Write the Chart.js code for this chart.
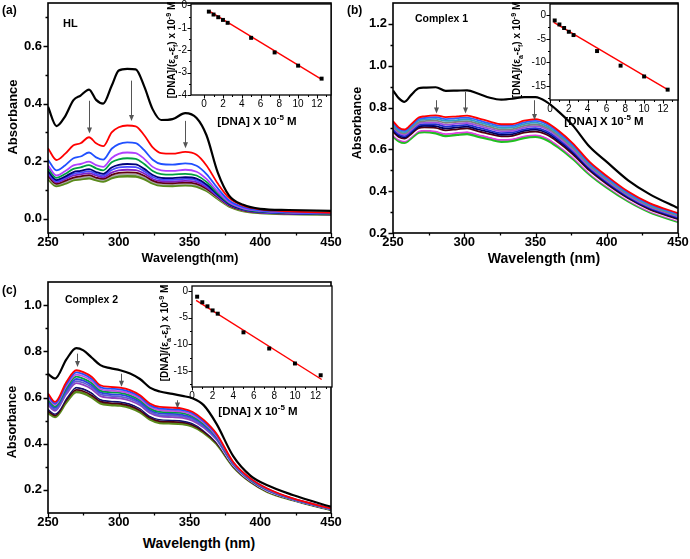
<!DOCTYPE html>
<html>
<head>
<meta charset="utf-8">
<script src="https://cdn.jsdelivr.net/npm/chart.js@4.4.0/dist/chart.umd.min.js"></script>
<style>
  body { margin: 0; background: #fff; }
  #page { position: relative; width: 690px; height: 559px; overflow: hidden; font-family: 'Liberation Sans', Arial, sans-serif; color: #000; }
  canvas { position: absolute; }
  .t { position: absolute; font-weight: bold; white-space: nowrap; line-height: 1; }
  .c { transform: translate(-50%, -50%); }
  .r { transform: translate(-50%, -50%) rotate(-90deg); }
  sup, sub { font-size: 70%; line-height: 0; }
</style>
</head>
<body>
<div id="page">
  <canvas id="mainA" width="345" height="252" style="left:0;top:0"></canvas>
  <canvas id="mainB" width="345" height="252" style="left:345px;top:0"></canvas>
  <canvas id="mainC" width="345" height="253" style="left:0;top:279px"></canvas>
  <canvas id="insetA" width="176" height="112" style="left:160px;top:0"></canvas>
  <canvas id="insetB" width="160" height="117" style="left:525px;top:0"></canvas>
  <canvas id="insetC" width="172" height="123" style="left:165px;top:282px"></canvas>

  <div class="t" style="left:2px;top:4px;font-size:12px">(a)</div>
  <div class="t" style="left:63px;top:18px;font-size:11px">HL</div>
  <div class="t" style="left:347px;top:4px;font-size:12px">(b)</div>
  <div class="t" style="left:415px;top:13px;font-size:10.5px">Complex 1</div>
  <div class="t" style="left:2px;top:284px;font-size:12px">(c)</div>
  <div class="t" style="left:65px;top:294px;font-size:10.5px">Complex 2</div>

  <div class="t r" style="left:12px;top:117px;font-size:13px">Absorbance</div>
  <div class="t c" style="left:190px;top:258px;font-size:12.5px">Wavelength(nm)</div>
  <div class="t r" style="left:357px;top:123px;font-size:12.5px">Absorbance</div>
  <div class="t c" style="left:544px;top:258px;font-size:14px">Wavelength (nm)</div>
  <div class="t r" style="left:12px;top:422px;font-size:12.5px">Absorbance</div>
  <div class="t c" style="left:199px;top:543px;font-size:14px">Wavelength (nm)</div>

  <div class="t c" style="left:257px;top:122px;font-size:11.5px">[DNA] X 10<sup>-5</sup> M</div>
  <div class="t r" style="left:172px;top:50px;font-size:10px">[DNA]/(&epsilon;<sub>a</sub>-&epsilon;<sub>f</sub>) x 10<sup>-9</sup> M</div>
  <div class="t c" style="left:604px;top:122px;font-size:11.5px">[DNA] X 10<sup>-5</sup> M</div>
  <div class="t r" style="left:517px;top:50px;font-size:10px">[DNA]/(&epsilon;<sub>a</sub>-&epsilon;<sub>f</sub>) x 10<sup>-9</sup> M</div>
  <div class="t c" style="left:258px;top:412px;font-size:11.5px">[DNA] X 10<sup>-5</sup> M</div>
  <div class="t r" style="left:165px;top:333px;font-size:10px">[DNA]/(&epsilon;<sub>a</sub>-&epsilon;<sub>f</sub>) x 10<sup>-9</sup> M</div>
</div>
<script>
// ---------- datos ----------

// ejes comunes
const wlTicks = [250, 300, 350, 400, 450];
const wlMinor = [275, 325, 375, 425];

// (a) HL
const aWl = [250, 256, 262, 268, 273, 279, 284, 289, 295, 300, 306, 312, 318, 324, 330, 338, 347, 355, 362, 370, 378, 388, 400, 420, 450];
const aBlack  = [0.389, 0.322, 0.355, 0.412, 0.428, 0.449, 0.413, 0.400, 0.462, 0.515, 0.521, 0.519, 0.460, 0.380, 0.343, 0.346, 0.367, 0.350, 0.290, 0.160, 0.080, 0.048, 0.034, 0.030, 0.027];
const aRed    = [0.245, 0.204, 0.225, 0.255, 0.262, 0.283, 0.262, 0.252, 0.300, 0.318, 0.324, 0.321, 0.290, 0.248, 0.228, 0.226, 0.232, 0.222, 0.185, 0.122, 0.072, 0.045, 0.032, 0.025, 0.020];
const aBlue   = [0.205, 0.168, 0.185, 0.210, 0.216, 0.230, 0.213, 0.205, 0.243, 0.259, 0.265, 0.263, 0.238, 0.205, 0.190, 0.188, 0.192, 0.184, 0.155, 0.105, 0.063, 0.040, 0.029, 0.023, 0.019];
const aViolet = [0.185, 0.150, 0.165, 0.185, 0.190, 0.198, 0.186, 0.180, 0.211, 0.225, 0.230, 0.228, 0.208, 0.180, 0.168, 0.166, 0.170, 0.163, 0.138, 0.094, 0.057, 0.036, 0.027, 0.021, 0.018];
const aGreen  = [0.175, 0.142, 0.155, 0.173, 0.178, 0.186, 0.175, 0.168, 0.196, 0.206, 0.210, 0.208, 0.190, 0.166, 0.155, 0.153, 0.156, 0.150, 0.128, 0.088, 0.054, 0.034, 0.025, 0.020, 0.017];
const aNavy   = [0.165, 0.134, 0.146, 0.162, 0.166, 0.172, 0.162, 0.156, 0.178, 0.187, 0.190, 0.189, 0.173, 0.152, 0.142, 0.141, 0.144, 0.139, 0.119, 0.083, 0.051, 0.032, 0.024, 0.019, 0.016];
const aBlue2  = [0.160, 0.130, 0.142, 0.156, 0.160, 0.165, 0.156, 0.150, 0.169, 0.178, 0.180, 0.179, 0.165, 0.145, 0.136, 0.135, 0.138, 0.133, 0.114, 0.080, 0.050, 0.031, 0.023, 0.018, 0.016];
const aPurple = [0.155, 0.126, 0.137, 0.150, 0.154, 0.158, 0.150, 0.144, 0.160, 0.168, 0.170, 0.169, 0.157, 0.138, 0.130, 0.129, 0.131, 0.127, 0.109, 0.077, 0.048, 0.030, 0.022, 0.018, 0.015];
const aMaroon = [0.148, 0.121, 0.131, 0.143, 0.147, 0.151, 0.143, 0.138, 0.152, 0.159, 0.161, 0.160, 0.149, 0.132, 0.124, 0.123, 0.125, 0.121, 0.104, 0.074, 0.046, 0.029, 0.021, 0.017, 0.015];
const aGray   = [0.143, 0.118, 0.127, 0.139, 0.142, 0.146, 0.139, 0.134, 0.147, 0.153, 0.155, 0.154, 0.144, 0.128, 0.120, 0.119, 0.121, 0.117, 0.101, 0.072, 0.045, 0.028, 0.021, 0.017, 0.014];
const aOlive  = [0.138, 0.114, 0.122, 0.134, 0.137, 0.141, 0.134, 0.129, 0.141, 0.147, 0.148, 0.147, 0.138, 0.123, 0.115, 0.114, 0.116, 0.112, 0.097, 0.069, 0.043, 0.027, 0.020, 0.016, 0.014];
const aYTicks = [0.0, 0.2, 0.4, 0.6];
const aYMinor = [0.1, 0.3, 0.5, 0.7];
const aArrowX = [279, 309, 347];
const aArrowFrom = [0.410, 0.480, 0.340];
const aArrowTo = [0.296, 0.340, 0.245];

// (b) Complex 1
const bWl = [250, 254, 258, 263, 268, 272, 280, 287, 295, 302, 310, 318, 326, 334, 342, 350, 358, 366, 376, 388, 400, 415, 430, 450];
const bBlack   = [0.882, 0.845, 0.827, 0.862, 0.892, 0.895, 0.897, 0.880, 0.881, 0.882, 0.866, 0.847, 0.838, 0.842, 0.850, 0.850, 0.826, 0.782, 0.716, 0.612, 0.540, 0.452, 0.386, 0.319];
const bRed     = [0.735, 0.705, 0.695, 0.722, 0.752, 0.758, 0.763, 0.754, 0.758, 0.761, 0.748, 0.733, 0.720, 0.721, 0.737, 0.745, 0.728, 0.690, 0.630, 0.540, 0.473, 0.398, 0.343, 0.295];
const bBlue    = [0.728, 0.698, 0.689, 0.715, 0.745, 0.750, 0.754, 0.745, 0.749, 0.752, 0.739, 0.724, 0.712, 0.713, 0.729, 0.736, 0.720, 0.682, 0.623, 0.534, 0.467, 0.393, 0.339, 0.291];
const bCyan    = [0.720, 0.692, 0.682, 0.709, 0.738, 0.743, 0.746, 0.736, 0.740, 0.744, 0.730, 0.716, 0.703, 0.705, 0.721, 0.728, 0.711, 0.674, 0.615, 0.528, 0.462, 0.389, 0.334, 0.287];
const bGray    = [0.713, 0.685, 0.676, 0.702, 0.730, 0.735, 0.737, 0.727, 0.732, 0.735, 0.722, 0.707, 0.695, 0.697, 0.712, 0.719, 0.703, 0.666, 0.608, 0.522, 0.456, 0.384, 0.330, 0.283];
const bViolet  = [0.706, 0.679, 0.670, 0.695, 0.723, 0.728, 0.729, 0.718, 0.723, 0.726, 0.713, 0.699, 0.687, 0.689, 0.704, 0.711, 0.695, 0.658, 0.600, 0.516, 0.451, 0.380, 0.326, 0.279];
const bBlue2   = [0.698, 0.672, 0.663, 0.688, 0.716, 0.720, 0.720, 0.709, 0.714, 0.717, 0.704, 0.690, 0.678, 0.681, 0.696, 0.702, 0.686, 0.650, 0.593, 0.510, 0.445, 0.375, 0.321, 0.274];
const bNavy    = [0.691, 0.666, 0.657, 0.682, 0.709, 0.713, 0.711, 0.700, 0.705, 0.709, 0.695, 0.682, 0.670, 0.673, 0.688, 0.694, 0.678, 0.642, 0.586, 0.504, 0.440, 0.370, 0.317, 0.270];
const bMaroon  = [0.684, 0.659, 0.651, 0.675, 0.702, 0.705, 0.703, 0.691, 0.696, 0.700, 0.686, 0.673, 0.662, 0.665, 0.680, 0.685, 0.670, 0.634, 0.578, 0.498, 0.434, 0.366, 0.313, 0.266];
const bWhite   = [0.677, 0.653, 0.645, 0.668, 0.694, 0.698, 0.694, 0.682, 0.688, 0.691, 0.678, 0.665, 0.654, 0.657, 0.671, 0.677, 0.662, 0.626, 0.571, 0.492, 0.429, 0.361, 0.309, 0.262];
const bMagenta = [0.669, 0.646, 0.638, 0.662, 0.687, 0.690, 0.686, 0.673, 0.679, 0.683, 0.669, 0.656, 0.645, 0.649, 0.663, 0.668, 0.653, 0.618, 0.563, 0.486, 0.423, 0.357, 0.304, 0.258];
const bGreen   = [0.662, 0.640, 0.632, 0.655, 0.680, 0.683, 0.677, 0.664, 0.670, 0.674, 0.660, 0.648, 0.637, 0.641, 0.655, 0.660, 0.645, 0.610, 0.556, 0.480, 0.418, 0.352, 0.300, 0.254];
const bYTicks = [0.2, 0.4, 0.6, 0.8, 1.0, 1.2];
const bYMinor = [0.3, 0.5, 0.7, 0.9, 1.1];
const bArrowX = [280.5, 300.5, 349];
const bArrowFrom = [0.835, 0.875, 0.835];
const bArrowTo = [0.771, 0.771, 0.740];

// (c) Complex 2
const cWl = [250, 255, 263, 270, 275, 281, 287, 294, 301, 308, 315, 322, 329, 338, 345, 352, 360, 369, 381, 393, 405, 423, 450];
const cBlack  = [0.702, 0.682, 0.765, 0.814, 0.804, 0.772, 0.740, 0.727, 0.718, 0.704, 0.680, 0.643, 0.626, 0.616, 0.607, 0.597, 0.567, 0.487, 0.345, 0.262, 0.220, 0.178, 0.127];
const cRed    = [0.617, 0.581, 0.667, 0.718, 0.710, 0.689, 0.653, 0.646, 0.643, 0.632, 0.610, 0.574, 0.559, 0.556, 0.552, 0.538, 0.503, 0.444, 0.320, 0.250, 0.206, 0.163, 0.120];
const cBlue   = [0.609, 0.574, 0.658, 0.709, 0.701, 0.680, 0.645, 0.638, 0.635, 0.624, 0.603, 0.567, 0.552, 0.549, 0.545, 0.532, 0.497, 0.440, 0.318, 0.248, 0.205, 0.162, 0.119];
const cViolet = [0.600, 0.568, 0.650, 0.699, 0.692, 0.671, 0.637, 0.630, 0.627, 0.617, 0.595, 0.560, 0.545, 0.542, 0.539, 0.525, 0.492, 0.435, 0.316, 0.247, 0.203, 0.162, 0.119];
const cGreen  = [0.592, 0.561, 0.641, 0.690, 0.682, 0.662, 0.630, 0.623, 0.620, 0.609, 0.588, 0.553, 0.538, 0.536, 0.532, 0.519, 0.486, 0.431, 0.314, 0.245, 0.202, 0.161, 0.118];
const cBlue2  = [0.583, 0.555, 0.632, 0.680, 0.673, 0.653, 0.622, 0.615, 0.612, 0.602, 0.581, 0.546, 0.531, 0.529, 0.525, 0.513, 0.481, 0.426, 0.312, 0.244, 0.200, 0.160, 0.117];
const cSlate  = [0.575, 0.548, 0.623, 0.671, 0.664, 0.644, 0.614, 0.607, 0.604, 0.594, 0.573, 0.539, 0.524, 0.522, 0.518, 0.506, 0.475, 0.422, 0.310, 0.242, 0.199, 0.159, 0.116];
const cPurple = [0.567, 0.542, 0.615, 0.662, 0.655, 0.636, 0.606, 0.599, 0.596, 0.586, 0.566, 0.533, 0.518, 0.515, 0.512, 0.500, 0.470, 0.418, 0.308, 0.241, 0.198, 0.159, 0.116];
const cWhite  = [0.558, 0.535, 0.606, 0.652, 0.646, 0.627, 0.598, 0.591, 0.588, 0.579, 0.559, 0.526, 0.511, 0.508, 0.505, 0.494, 0.464, 0.413, 0.306, 0.239, 0.196, 0.158, 0.115];
const cNavy   = [0.550, 0.529, 0.597, 0.643, 0.636, 0.618, 0.591, 0.584, 0.581, 0.571, 0.552, 0.519, 0.504, 0.502, 0.498, 0.488, 0.459, 0.409, 0.304, 0.238, 0.195, 0.157, 0.114];
const cMaroon = [0.541, 0.522, 0.589, 0.633, 0.627, 0.609, 0.583, 0.576, 0.573, 0.564, 0.544, 0.512, 0.497, 0.495, 0.492, 0.481, 0.453, 0.404, 0.302, 0.236, 0.193, 0.157, 0.114];
const cOlive  = [0.533, 0.516, 0.580, 0.624, 0.618, 0.600, 0.575, 0.568, 0.565, 0.556, 0.537, 0.505, 0.490, 0.488, 0.485, 0.475, 0.448, 0.400, 0.300, 0.235, 0.192, 0.156, 0.113];
const cYTicks = [0.2, 0.4, 0.6, 0.8, 1.0];
const cYMinor = [0.3, 0.5, 0.7, 0.9];
const cArrowX = [270.3, 301.6, 341];
const cArrowFrom = [0.790, 0.703, 0.588];
const cArrowTo = [0.732, 0.646, 0.552];

// recuadros: [DNA] x 10^-5 M frente a [DNA]/(ea-ef)
const dnaConc = [0.5, 1, 1.5, 2, 2.5, 5, 7.5, 10, 12.5];
const aInsetY = [-0.28, -0.41, -0.53, -0.65, -0.78, -1.45, -2.10, -2.69, -3.27];
const bInsetY = [-1.1, -1.95, -2.7, -3.5, -4.2, -7.6, -10.7, -13.0, -15.8];
const cInsetY = [-1.1, -2.14, -2.9, -3.67, -4.28, -7.77, -10.8, -13.6, -15.8];
const aFitX = [0.5, 12.5], aFitY = [-0.25, -3.30];
const bFitX = [0.4, 12.6], bFitY = [-1.5, -15.9];
const cFitX = [0.4, 12.6], cFitY = [-1.8, -16.6];
const insetXTicks = [0, 2, 4, 6, 8, 10, 12];
const insetXMinor = [1, 3, 5, 7, 9, 11, 13];
const aInsetYTicks = [0, -1, -2, -3, -4];
const aInsetYMinor = [-0.5, -1.5, -2.5, -3.5];
const bcInsetYTicks = [0, -5, -10, -15];
const bcInsetYMinor = [-2.5, -7.5, -12.5, -17.5];

// ---------- estilos ----------
const FONT = "'Liberation Sans', Arial, sans-serif";
const aColors = ['#000000', '#ff0000', '#2050ff', '#b040ff', '#00a040', '#00007a', '#4848ff', '#8020c0', '#600010', '#a8a8a8', '#5a8a1a'];
const bColors = ['#000000', '#ff0000', '#3060ff', '#30a0c0', '#808080', '#a050e0', '#2030d0', '#000060', '#500010', '#ffffff', '#e040e0', '#20c020'];
const cColors = ['#000000', '#ff0000', '#2050ff', '#c050e0', '#00a040', '#3040e0', '#6060d0', '#9040c0', '#ffffff', '#10106a', '#500010', '#5a8a1a'];

// marco + marcas de graduación (mayores y menores) hacia afuera
function framePlugin(cfg) {
  return {
    id: 'frame',
    beforeDatasetsDraw(chart) {
      if (!cfg.fill) return;
      const a = chart.chartArea;
      chart.ctx.save();
      chart.ctx.fillStyle = '#fff';
      chart.ctx.fillRect(a.left, a.top, a.right - a.left, a.bottom - a.top);
      chart.ctx.restore();
    },
    afterDatasetsDraw(chart) {
      const { ctx, chartArea: a, scales: { x, y } } = chart;
      ctx.save();
      ctx.strokeStyle = '#000';
      ctx.lineWidth = cfg.lw;
      ctx.strokeRect(a.left, a.top, a.right - a.left, a.bottom - a.top);
      ctx.lineWidth = cfg.lw * 0.8;
      ctx.beginPath();
      const tx = (vals, len) => vals.forEach(v => {
        const p = Math.round(x.getPixelForValue(v)) + 0.5;
        ctx.moveTo(p, a.bottom); ctx.lineTo(p, a.bottom + len);
      });
      const ty = (vals, len) => vals.forEach(v => {
        const p = Math.round(y.getPixelForValue(v)) + 0.5;
        ctx.moveTo(a.left, p); ctx.lineTo(a.left - len, p);
      });
      tx(cfg.xMajor, cfg.major); tx(cfg.xMinor, cfg.minor);
      ty(cfg.yMajor, cfg.major); ty(cfg.yMinor, cfg.minor);
      ctx.stroke();
      ctx.restore();
    }
  };
}

// flechas grises que marcan el hipocromismo
function arrowPlugin(xs, from, to) {
  return {
    id: 'arrows',
    afterDatasetsDraw(chart) {
      const { ctx, scales: { x, y } } = chart;
      ctx.save();
      ctx.strokeStyle = '#555';
      ctx.fillStyle = '#555';
      ctx.lineWidth = 1;
      xs.forEach((w, i) => {
        const px = Math.round(x.getPixelForValue(w)) + 0.5;
        const y0 = y.getPixelForValue(from[i]);
        const y1 = y.getPixelForValue(to[i]);
        ctx.beginPath(); ctx.moveTo(px, y0); ctx.lineTo(px, y1 - 5); ctx.stroke();
        ctx.beginPath(); ctx.moveTo(px - 2.5, y1 - 6); ctx.lineTo(px + 2.5, y1 - 6); ctx.lineTo(px, y1); ctx.closePath(); ctx.fill();
      });
      ctx.restore();
    }
  };
}

function axis(min, max, ticks, size, bold, fmt, pad) {
  return {
    type: 'linear', min: min, max: max,
    afterBuildTicks: s => { s.ticks = ticks.map(v => ({ value: v })); },
    afterFit: s => {
      if (s.isHorizontal()) { s.height = size.h; s.paddingLeft = 0; s.paddingRight = 0; }
      else { s.width = size.w; s.paddingTop = 0; s.paddingBottom = 0; }
    },
    grid: { display: false, drawTicks: false },
    border: { display: false },
    ticks: {
      color: '#000', padding: pad, autoSkip: false, maxRotation: 0,
      font: { family: FONT, size: size.font, weight: bold ? 'bold' : 'normal' },
      callback: fmt
    }
  };
}

function lineSets(wl, curves, colors) {
  return curves.map((vals, i) => ({
    data: wl.map((w, j) => ({ x: w, y: vals[j] })),
    borderColor: colors[i],
    borderWidth: i === 0 ? 2.2 : (i === curves.length - 1 ? 2.6 : 1.8),
    pointRadius: 0,
    cubicInterpolationMode: 'monotone',
    fill: false
  }));
}

function mainChart(id, o) {
  return new Chart(document.getElementById(id), {
    type: 'line',
    data: { datasets: lineSets(o.wl, o.curves, o.colors) },
    options: {
      responsive: false, animation: false, events: [],
      layout: { padding: { top: o.padTop, right: o.padRight, left: 0, bottom: 0 } },
      plugins: { legend: { display: false }, tooltip: { enabled: false } },
      scales: {
        x: axis(250, 450, wlTicks, { h: 19, font: 13 }, true, v => v, 2),
        y: axis(o.yMin, o.yMax, o.yTicks, { w: 48, font: 13 }, true, v => v.toFixed(1), 6)
      }
    },
    plugins: [
      framePlugin({ lw: 1.6, major: 4.5, minor: 2.5, xMajor: wlTicks, xMinor: wlMinor, yMajor: o.yTicks, yMinor: o.yMinor }),
      arrowPlugin(o.arrowX, o.arrowFrom, o.arrowTo)
    ]
  });
}

function insetChart(id, o) {
  return new Chart(document.getElementById(id), {
    type: 'scatter',
    data: {
      datasets: [
        {
          data: dnaConc.map((v, i) => ({ x: v, y: o.ys[i] })),
          showLine: false, pointStyle: 'rect', pointRadius: 2.8,
          backgroundColor: '#000', borderColor: '#000', borderWidth: 0
        },
        {
          data: o.fitX.map((v, i) => ({ x: v, y: o.fitY[i] })),
          showLine: true, borderColor: '#ff0000', borderWidth: 1.4, pointRadius: 0
        }
      ]
    },
    options: {
      responsive: false, animation: false, events: [],
      layout: { padding: { top: o.padTop, right: o.padRight, left: 0, bottom: 0 } },
      plugins: { legend: { display: false }, tooltip: { enabled: false } },
      scales: {
        x: axis(o.xMin, o.xMax, insetXTicks, { h: o.xh, font: 10 }, false, v => v, 3),
        y: axis(o.yMin, o.yMax, o.yTicks, { w: o.yw, font: 10 }, false, v => v, 4)
      }
    },
    plugins: [
      framePlugin({ fill: true, lw: 1.3, major: 3.5, minor: 2, xMajor: insetXTicks, xMinor: insetXMinor, yMajor: o.yTicks, yMinor: o.yMinor })
    ]
  });
}

// ---------- paneles principales ----------
mainChart('mainA', {
  wl: aWl,
  curves: [aBlack, aRed, aBlue, aViolet, aGreen, aNavy, aBlue2, aPurple, aMaroon, aGray, aOlive],
  colors: aColors, yMin: -0.05, yMax: 0.75, yTicks: aYTicks, yMinor: aYMinor,
  arrowX: aArrowX, arrowFrom: aArrowFrom, arrowTo: aArrowTo, padTop: 3, padRight: 14
});
mainChart('mainB', {
  wl: bWl,
  curves: [bBlack, bRed, bBlue, bCyan, bGray, bViolet, bBlue2, bNavy, bMaroon, bWhite, bMagenta, bGreen],
  colors: bColors, yMin: 0.2, yMax: 1.3, yTicks: bYTicks, yMinor: bYMinor,
  arrowX: bArrowX, arrowFrom: bArrowFrom, arrowTo: bArrowTo, padTop: 3, padRight: 12
});
mainChart('mainC', {
  wl: cWl,
  curves: [cBlack, cRed, cBlue, cViolet, cGreen, cBlue2, cSlate, cPurple, cWhite, cNavy, cMaroon, cOlive],
  colors: cColors, yMin: 0.1, yMax: 1.1, yTicks: cYTicks, yMinor: cYMinor,
  arrowX: cArrowX, arrowFrom: cArrowFrom, arrowTo: cArrowTo, padTop: 3, padRight: 14
});

// ---------- recuadros ----------
insetChart('insetA', {
  ys: aInsetY, fitX: aFitX, fitY: aFitY, xMin: -1.4, xMax: 13.5, yMin: -4, yMax: 0.06,
  yTicks: aInsetYTicks, yMinor: aInsetYMinor, padTop: 3, padRight: 5, yw: 31, xh: 17
});
insetChart('insetB', {
  ys: bInsetY, fitX: bFitX, fitY: bFitY, xMin: 0, xMax: 13.6, yMin: -18, yMax: 2.4,
  yTicks: bcInsetYTicks, yMinor: bcInsetYMinor, padTop: 3, padRight: 7, yw: 25, xh: 17
});
insetChart('insetC', {
  ys: cInsetY, fitX: cFitX, fitY: cFitY, xMin: 0, xMax: 13.6, yMin: -18, yMax: 0.9,
  yTicks: bcInsetYTicks, yMinor: bcInsetYMinor, padTop: 3, padRight: 5, yw: 27, xh: 18
});
</script>
</body>
</html>
